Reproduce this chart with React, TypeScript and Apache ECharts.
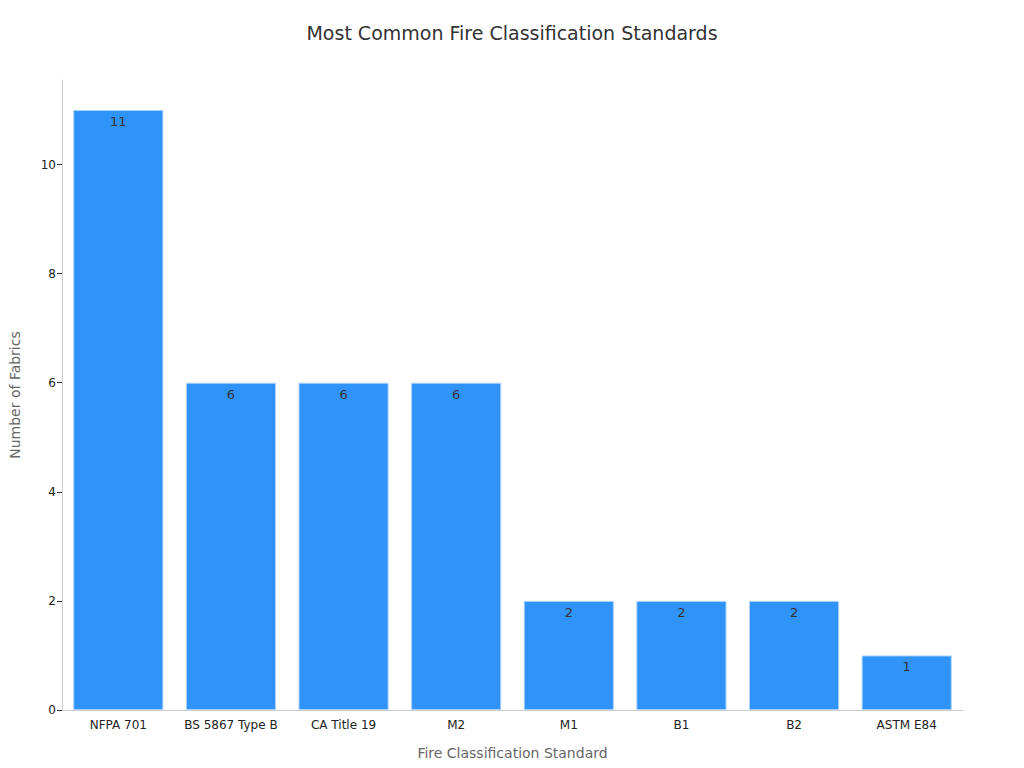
import React, { useEffect, useRef } from 'react'
import * as echarts from 'echarts'

const categories = ['NFPA 701', 'BS 5867 Type B', 'CA Title 19', 'M2', 'M1', 'B1', 'B2', 'ASTM E84']
const fabricCounts = [11, 6, 6, 6, 2, 2, 2, 1]
const yTicks = [0, 2, 4, 6, 8, 10]

const FONT = "'DejaVu Sans', sans-serif"

const App = () => {
  const chartRef = useRef<HTMLDivElement>(null)

  useEffect(() => {
    if (!chartRef.current) return
    const chart = echarts.init(chartRef.current, undefined, { renderer: 'svg' })

    const option = {
      animation: false,
      textStyle: { fontFamily: FONT },
      title: {
        text: 'Most Common Fire Classification Standards',
        left: 'center',
        top: 18,
        textStyle: { fontFamily: FONT, fontSize: 19, fontWeight: 'normal', color: '#333' },
      },
      grid: { left: 54, right: 61, top: 80, bottom: 58, containLabel: false },
      xAxis: {
        type: 'category',
        data: categories,
        name: 'Fire Classification Standard',
        nameLocation: 'middle',
        nameGap: 36,
        nameTextStyle: { fontFamily: FONT, fontSize: 14, color: '#666' },
        axisLine: { lineStyle: { color: '#ccc' } },
        axisTick: { alignWithLabel: true, length: 5, lineStyle: { color: '#333' } },
        axisLabel: { interval: 0, fontFamily: FONT, fontSize: 12, color: '#222', margin: 9 },
      },
      yAxis: {
        type: 'value',
        min: 0,
        max: 11.55,
        name: 'Number of Fabrics',
        nameLocation: 'middle',
        nameGap: 40,
        nameTextStyle: { fontFamily: FONT, fontSize: 14, color: '#666' },
        axisLine: { show: true, lineStyle: { color: '#ccc' } },
        axisTick: { show: true, length: 5, lineStyle: { color: '#333' }, customValues: yTicks },
        axisLabel: { fontFamily: FONT, fontSize: 12, color: '#222', margin: 6, customValues: yTicks },
        splitLine: { show: false },
      },
      series: [
        {
          type: 'bar',
          data: fabricCounts,
          barCategoryGap: '20%',
          itemStyle: { color: '#2f93f8', borderColor: '#a9d1fb', borderWidth: 1 },
          label: {
            show: true,
            position: 'insideTop',
            distance: 5,
            fontFamily: FONT,
            fontSize: 13,
            color: '#333',
          },
        },
      ],
    }

    chart.setOption(option)
    return () => {
      chart.dispose()
    }
  }, [])

  return (
    <div
      ref={chartRef}
      style={{ position: 'fixed', left: 0, top: 0, width: 1024, height: 768, background: '#fff' }}
    />
  )
}

export default App
